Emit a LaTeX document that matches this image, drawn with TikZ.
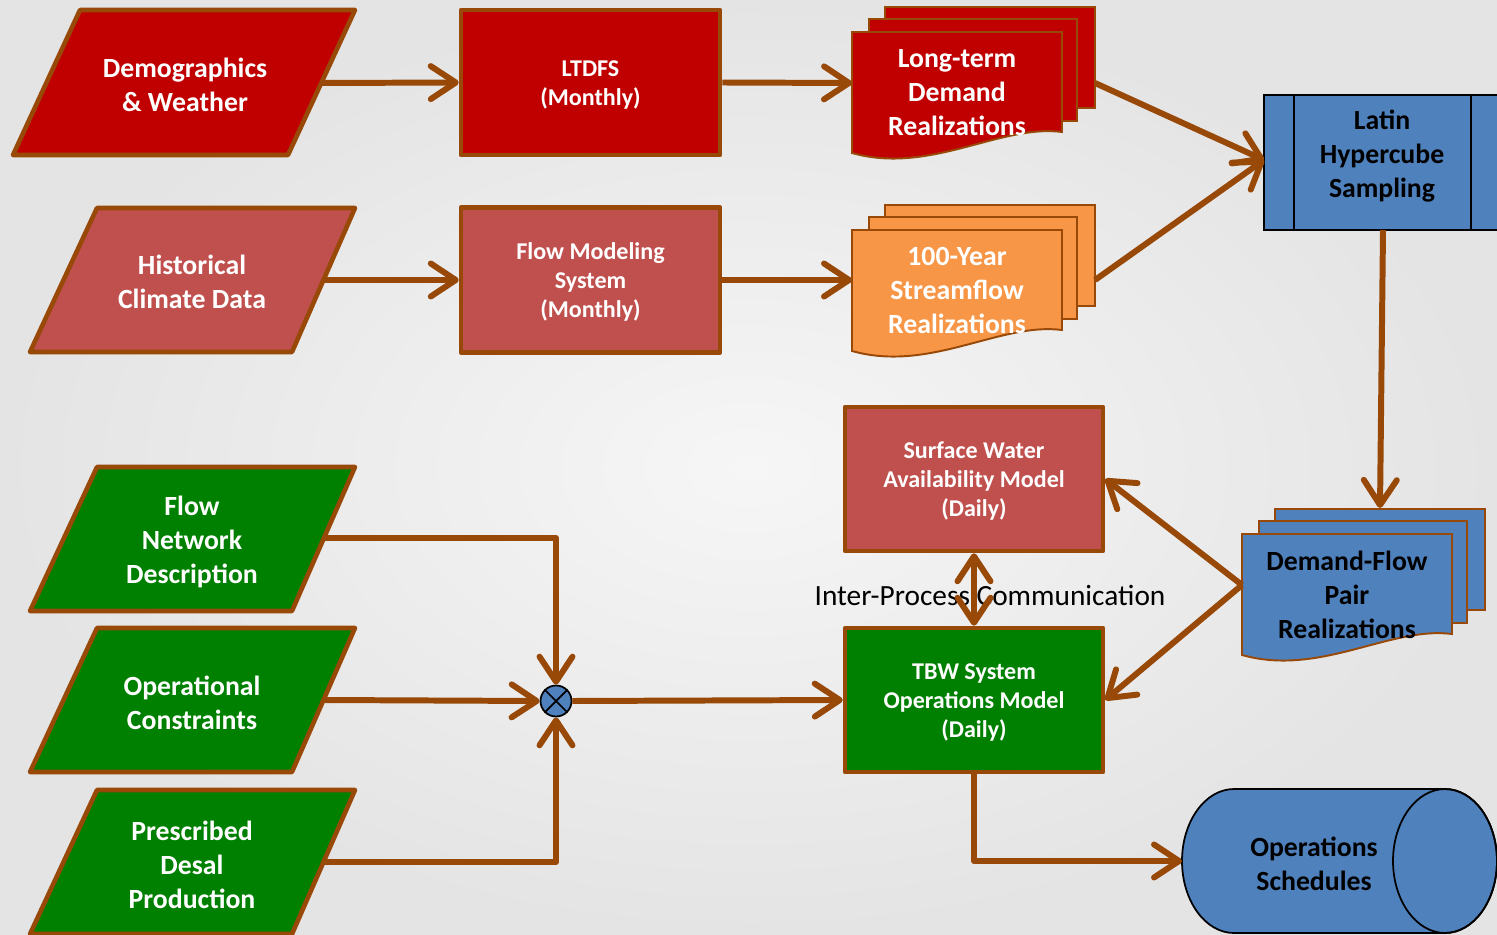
\documentclass[tikz,border=0pt]{standalone}
\usepackage{fontspec}
\setmainfont{Carlito}
\usetikzlibrary{arrows.meta}
\definecolor{brn}{HTML}{984807}
\definecolor{dred}{HTML}{C00000}
\definecolor{lred}{HTML}{C0504D}
\definecolor{orng}{HTML}{F79646}
\definecolor{grn}{HTML}{008000}
\definecolor{blu}{HTML}{4F81BD}
\definecolor{bgin}{HTML}{F6F6F6}
\definecolor{bgout}{HTML}{E4E4E4}
\begin{document}
\begin{tikzpicture}[x=0.02cm,y=-0.02cm,
 shapeline/.style={draw=brn, line width=2.6pt, line join=round},
 thinline/.style={draw=brn, line width=1.1pt},
 bigtxt/.style={font=\bfseries\fontsize{15.8}{19.3}\selectfont, align=center, text=white, yshift=-0.035cm},
 bigblk/.style={font=\bfseries\fontsize{15.8}{19.3}\selectfont, align=center, text=black, yshift=-0.035cm},
 smalltxt/.style={font=\bfseries\fontsize{13.7}{16.6}\selectfont, align=center, text=white},
 procbox/.style={shapeline, minimum width=5.18cm, minimum height=2.9cm, inner sep=0pt},
 conn/.style={draw=brn, line width=3.4pt, line join=round, -{Straight Barb[length=0.5cm,width=0.66cm,round]}},
 dconn/.style={draw=brn, line width=3.4pt, line join=round, {Straight Barb[length=0.5cm,width=0.66cm,round]}-{Straight Barb[length=0.5cm,width=0.66cm,round]}},
]
\useasboundingbox (0,0) rectangle (1497,935);
\clip (0,0) rectangle (1497,935);
\shade[inner color=bgin, outer color=bgout] (0,0) rectangle (1497,935);

% ---------- parallelograms ----------
\path[shapeline, fill=dred] (80,10) -- (355,10) -- (288,155) -- (13,155) -- cycle;
\node[bigtxt] (dem) at (185,83) {Demographics\\\& Weather};
\coordinate (dem-e) at (322,83);

\path[shapeline, fill=lred] (97,208) -- (355,208) -- (292,352) -- (30,352) -- cycle;
\node[bigtxt] (hcd) at (192,280) {Historical\\Climate Data};
\coordinate (hcd-e) at (324,280);

\path[shapeline, fill=grn] (97,467) -- (355,467) -- (292,611) -- (30,611) -- cycle;
\node[bigtxt] (fnd) at (192,540) {Flow\\Network\\Description};
\coordinate (fnd-e) at (324,538);

\path[shapeline, fill=grn] (97,628) -- (355,628) -- (292,772) -- (30,772) -- cycle;
\node[bigtxt] (opc) at (192,701) {Operational\\Constraints};
\coordinate (opc-e) at (324,700);

\path[shapeline, fill=grn] (97,790) -- (355,790) -- (292,934) -- (30,934) -- cycle;
\node[bigtxt] (pdp) at (192,863) {Prescribed\\Desal\\Production};
\coordinate (pdp-e) at (324,862);

% ---------- process boxes ----------
\node[procbox, fill=dred, smalltxt] (ltdfs) at (590.5,82.5) {\strut LTDFS\\(Monthly)};
\node[procbox, fill=lred, smalltxt] (fms) at (590.5,280) {\strut Flow Modeling\\System\\(Monthly)};
\node[procbox, fill=lred, smalltxt, minimum width=5.16cm, minimum height=2.88cm] (sw) at (974,479) {\strut Surface Water\\Availability Model\\(Daily)};
\node[procbox, fill=grn, smalltxt, minimum width=5.16cm, minimum height=2.88cm] (tbw) at (974,700) {\strut TBW System\\Operations Model\\(Daily)};

% ---------- multi-documents ----------
\foreach \dx/\dy/\col in {0/0/dred, 0/198/orng, 390/502/blu}{
 \begin{scope}[shift={(\dx,\dy)}]
  \path[thinline, fill=\col] (885,7) rectangle (1095,108);
  \path[thinline, fill=\col] (869,19) rectangle (1077,121);
  \path[thinline, fill=\col] (852,32) -- (1062,32) -- (1062,132)
     .. controls (1000,124) and (930,175) .. (852,153) -- cycle;
 \end{scope}
}
\node[bigtxt] (ltd) at (957,91) {Long-term\\Demand\\Realizations};
\coordinate (ltd-w) at (852,83);
\coordinate (ltd-e) at (1095,83);
\node[bigtxt] (syr) at (957,289) {100-Year\\Streamflow\\Realizations};
\coordinate (syr-w) at (852,280);
\coordinate (syr-e) at (1095,280);
\node[bigblk] (dfp) at (1347,593) {Demand-Flow\\Pair\\Realizations};
\coordinate (dfp-w) at (1242,585);
\coordinate (dfp-n) at (1380,508);

% ---------- Latin Hypercube (predefined process) ----------
\path[draw=black, line width=1pt, fill=blu] (1264,95) rectangle (1520,230);
\draw[black, line width=1pt] (1294,95) -- (1294,230) (1471,95) -- (1471,230);
\node[bigblk] (lhs) at (1382,154) {Latin\\Hypercube\\Sampling};
\coordinate (lhs-w) at (1264,160);
\coordinate (lhs-s) at (1383,230);

% ---------- Operations Schedules (cylinder) ----------
\path[draw=black, line width=1pt, fill=blu] (1234,789) -- (1445,789)
  arc[start angle=90, end angle=-90, x radius=1.04cm, y radius=1.44cm]
  -- (1234,933)
  arc[start angle=270, end angle=90, x radius=1.04cm, y radius=1.44cm] -- cycle;
\draw[black, line width=1pt] (1445,861) ellipse[x radius=1.04cm, y radius=1.44cm];
\node[bigblk] (ops) at (1314,862) {Operations\\Schedules};
\coordinate (ops-w) at (1182,861);

% ---------- junction ----------
\node[circle, draw=black, fill=blu, line width=1pt, minimum size=0.62cm, inner sep=0pt] (jn) at (556,701) {};
\draw[black, line width=1pt] (jn.north east) -- (jn.south west) (jn.north west) -- (jn.south east);

% ---------- label ----------
\node[font=\fontsize{16.7}{19}\selectfont, text=black] (ipc) at (990,595) {Inter-Process Communication};

% ---------- connectors ----------
\draw[conn] (dem-e) -- (ltdfs.west);
\draw[conn] (ltdfs.east) -- (ltd-w);
\draw[conn] (hcd-e) -- (fms.west);
\draw[conn] (fms.east) -- (syr-w);
\draw[conn] (ltd-e) -- (lhs-w);
\draw[conn] (syr-e) -- (lhs-w);
\draw[conn] (lhs-s) -- (dfp-n);
\draw[conn] (dfp-w) -- (sw.east);
\draw[conn] (dfp-w) -- (tbw.east);
\draw[dconn] (sw.south) -- (tbw.north);
\draw[conn] (fnd-e) -| (jn.north);
\draw[conn] (opc-e) -- (jn.west);
\draw[conn] (pdp-e) -| (jn.south);
\draw[conn] (jn.east) -- (tbw.west);
\draw[conn] (tbw.south) |- (ops-w);
\end{tikzpicture}
\end{document}
